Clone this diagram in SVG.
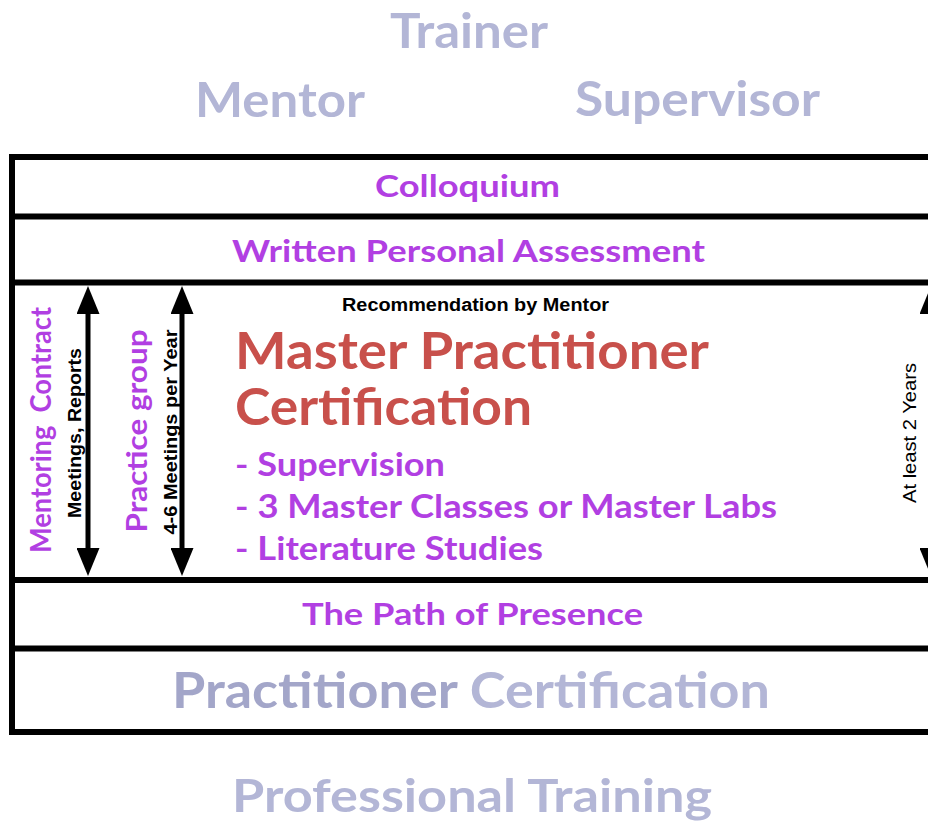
<svg xmlns="http://www.w3.org/2000/svg" width="928" height="823" viewBox="0 0 928 823">
  <style>
    .title { font-family: Lato, "Open Sans", "Liberation Sans", sans-serif; font-weight: 700; fill: #b3b6d6; }
    .dark { fill: #a3a6c9; }
    .purple { font-family: Lato, "Open Sans", "Liberation Sans", sans-serif; font-weight: 700; fill: #b13fe2; }
    .red { font-family: Lato, "Open Sans", "Liberation Sans", sans-serif; font-weight: 700; fill: #c8504b; }
    .note { font-family: "Liberation Sans", Arial, sans-serif; font-weight: 700; fill: #000; }
    .note2 { font-family: "Liberation Sans", Arial, sans-serif; font-weight: 400; fill: #000; }
    .band { stroke: #000; stroke-width: 6; fill: none; }
    .conn { stroke: #000; stroke-width: 5; fill: none; marker-start: url(#head); marker-end: url(#head); }
  </style>
  <defs>
    <marker id="head" viewBox="0 0 28 23" markerUnits="userSpaceOnUse" markerWidth="28" markerHeight="23" refX="1" refY="11.5" orient="auto-start-reverse">
      <path d="M0,0 L28,11.5 L0,23 z" fill="#000"/>
    </marker>
  </defs>
  <rect width="928" height="823" fill="#fff"/>

  <g id="trainer"><text class="title" x="390" y="48" font-size="48" textLength="158" lengthAdjust="spacingAndGlyphs">Trainer</text></g>
  <g id="mentor"><text class="title" x="195" y="117" font-size="48" textLength="170" lengthAdjust="spacingAndGlyphs">Mentor</text></g>
  <g id="supervisor"><text class="title" x="575" y="116" font-size="48" textLength="245" lengthAdjust="spacingAndGlyphs">Supervisor</text></g>

  <g id="frame">
    <line class="band" x1="12" y1="154" x2="12" y2="735"/>
    <line class="band" x1="9" y1="157" x2="940" y2="157"/>
    <line class="band" x1="9" y1="216.5" x2="940" y2="216.5" stroke-width="7"/>
    <line class="band" x1="9" y1="282.5" x2="940" y2="282.5"/>
    <line class="band" x1="9" y1="580" x2="940" y2="580"/>
    <line class="band" x1="9" y1="648.5" x2="940" y2="648.5"/>
    <line class="band" x1="9" y1="732" x2="940" y2="732"/>
  </g>

  <g id="colloquium"><text class="purple" x="375" y="197" font-size="31" textLength="185" lengthAdjust="spacingAndGlyphs">Colloquium</text></g>
  <g id="assessment"><text class="purple" x="232" y="262" font-size="31" textLength="473" lengthAdjust="spacingAndGlyphs">Written Personal Assessment</text></g>

  <g id="master">
    <text class="note" x="342" y="311" font-size="18" textLength="267" lengthAdjust="spacingAndGlyphs">Recommendation by Mentor</text>
    <text class="red" x="235" y="369" font-size="51" textLength="474" lengthAdjust="spacingAndGlyphs">Master Practitioner</text>
    <text class="red" x="235" y="425" font-size="51" textLength="297" lengthAdjust="spacingAndGlyphs">Certification</text>
    <text class="purple" x="235" y="476" font-size="33" textLength="210" lengthAdjust="spacingAndGlyphs">- Supervision</text>
    <text class="purple" x="235" y="518" font-size="33" textLength="542" lengthAdjust="spacingAndGlyphs">- 3 Master Classes or Master Labs</text>
    <text class="purple" x="235" y="560" font-size="33" textLength="308" lengthAdjust="spacingAndGlyphs">- Literature Studies</text>
  </g>

  <g id="mentoring">
    <text class="purple" transform="translate(51,430) rotate(-90)" text-anchor="middle" font-size="28" textLength="246" lengthAdjust="spacingAndGlyphs">Mentoring&#160; Contract</text>
    <text class="note" transform="translate(81,433) rotate(-90)" text-anchor="middle" font-size="18" textLength="170" lengthAdjust="spacingAndGlyphs">Meetings, Reports</text>
  </g>
  <g id="practice-group">
    <text class="purple" transform="translate(147,431) rotate(-90)" text-anchor="middle" font-size="29" textLength="203" lengthAdjust="spacingAndGlyphs">Practice group</text>
    <text class="note" transform="translate(177,432) rotate(-90)" text-anchor="middle" font-size="18" textLength="205" lengthAdjust="spacingAndGlyphs">4-6 Meetings per Year</text>
  </g>
  <g id="duration">
    <text class="note2" transform="translate(916,433) rotate(-90)" text-anchor="middle" font-size="19" textLength="140" lengthAdjust="spacingAndGlyphs">At least 2 Years</text>
  </g>

  <g id="connectors">
    <line class="conn" x1="88" y1="313" x2="88" y2="549"/>
    <line class="conn" x1="182" y1="313" x2="182" y2="549"/>
    <line class="conn" x1="931" y1="313" x2="931" y2="549"/>
  </g>

  <g id="path-of-presence"><text class="purple" x="302" y="625" font-size="31" textLength="341" lengthAdjust="spacingAndGlyphs">The Path of Presence</text></g>
  <g id="practitioner"><text class="title" x="172" y="708" font-size="50" textLength="598" lengthAdjust="spacingAndGlyphs"><tspan class="dark">Practitioner</tspan> Certification</text></g>
  <g id="professional"><text class="title" x="232" y="812" font-size="46" textLength="480" lengthAdjust="spacingAndGlyphs">Professional Training</text></g>
</svg>
